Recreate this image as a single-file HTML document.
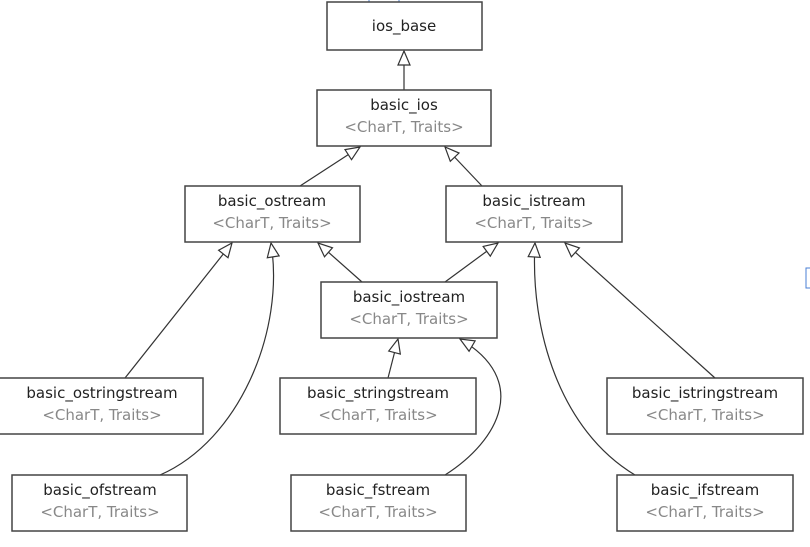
<!DOCTYPE html>
<html><head><style>
body{margin:0;background:#fff;}
svg{display:block}
text{font-family:"DejaVu Sans","Liberation Sans",sans-serif;font-size:15px;text-anchor:middle}
.n{fill:#222}.g{fill:#888}
rect{fill:#fff;stroke:#444;stroke-width:1.5}
path.e{fill:none;stroke:#333;stroke-width:1.2}
</style></head><body>
<svg width="810" height="547" viewBox="0 0 810 547">
<defs><marker id="a" markerWidth="16" markerHeight="14" refX="15" refY="7" orient="auto" markerUnits="userSpaceOnUse">
<path d="M1,1 L15,7 L1,13 Z" fill="#fff" stroke="#333" stroke-width="1.2"/></marker></defs>
<rect x="369" y="-3" width="30" height="5" style="stroke:#4a7fd4;fill:none;stroke-width:1"/>
<rect x="806" y="268" width="8" height="20" style="stroke:#4a7fd4;fill:none;stroke-width:1"/>
<path class="e" d="M404,90 L404,51" marker-end="url(#a)"/>
<path class="e" d="M300,186 L360,147" marker-end="url(#a)"/>
<path class="e" d="M482,186 L445,147" marker-end="url(#a)"/>
<path class="e" d="M362,282 L318,243" marker-end="url(#a)"/>
<path class="e" d="M445,282 L498,243" marker-end="url(#a)"/>
<path class="e" d="M125,378 L232,243" marker-end="url(#a)"/>
<path class="e" d="M160,475 C240,440 285,330 271,243" marker-end="url(#a)"/>
<path class="e" d="M388,378 L398,339" marker-end="url(#a)"/>
<path class="e" d="M445,475 C500,440 530,380 460,339" marker-end="url(#a)"/>
<path class="e" d="M715,378 L565,243" marker-end="url(#a)"/>
<path class="e" d="M635,475 C560,430 530,330 535,243" marker-end="url(#a)"/>
<rect x="327" y="2" width="155" height="48"/><text class="n" x="404" y="31">ios_base</text>
<rect x="317" y="90" width="174" height="56"/><text class="n" x="404" y="110">basic_ios</text><text class="g" x="404" y="132">&lt;CharT, Traits&gt;</text>
<rect x="185" y="186" width="175" height="56"/><text class="n" x="272" y="206">basic_ostream</text><text class="g" x="272" y="228">&lt;CharT, Traits&gt;</text>
<rect x="446" y="186" width="176" height="56"/><text class="n" x="534" y="206">basic_istream</text><text class="g" x="534" y="228">&lt;CharT, Traits&gt;</text>
<rect x="321" y="282" width="176" height="56"/><text class="n" x="409" y="302">basic_iostream</text><text class="g" x="409" y="324">&lt;CharT, Traits&gt;</text>
<rect x="-1" y="378" width="204" height="56"/><text class="n" x="102" y="398">basic_ostringstream</text><text class="g" x="102" y="420">&lt;CharT, Traits&gt;</text>
<rect x="280" y="378" width="196" height="56"/><text class="n" x="378" y="398">basic_stringstream</text><text class="g" x="378" y="420">&lt;CharT, Traits&gt;</text>
<rect x="607" y="378" width="196" height="56"/><text class="n" x="705" y="398">basic_istringstream</text><text class="g" x="705" y="420">&lt;CharT, Traits&gt;</text>
<rect x="12" y="475" width="175" height="56"/><text class="n" x="100" y="495">basic_ofstream</text><text class="g" x="100" y="517">&lt;CharT, Traits&gt;</text>
<rect x="291" y="475" width="175" height="56"/><text class="n" x="378" y="495">basic_fstream</text><text class="g" x="378" y="517">&lt;CharT, Traits&gt;</text>
<rect x="617" y="475" width="176" height="56"/><text class="n" x="705" y="495">basic_ifstream</text><text class="g" x="705" y="517">&lt;CharT, Traits&gt;</text>
</svg>
</body></html>
